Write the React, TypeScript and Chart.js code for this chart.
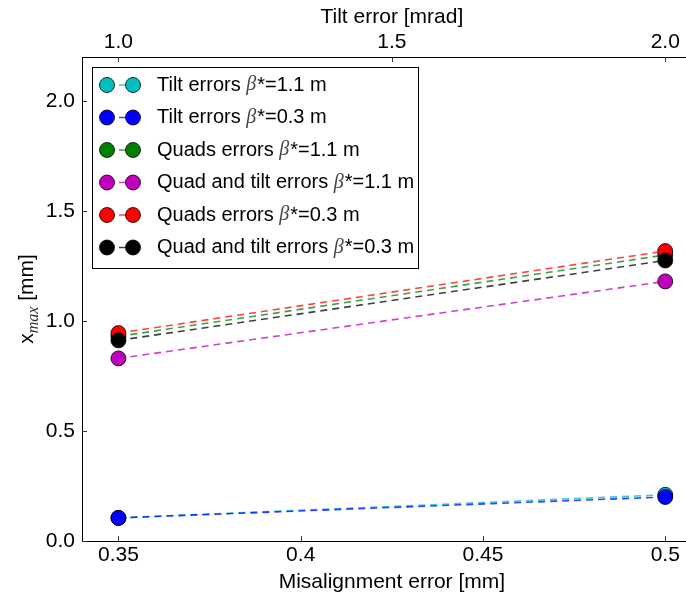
import React, { useEffect, useRef } from 'react';
import { Chart, registerables } from 'chart.js';

Chart.register(...registerables);

// ---------- data ----------
const misalignment = [0.35, 0.5];
const misalignTicks = [0.35, 0.4, 0.45, 0.5];
const misalignTickLabels = ['0.35', '0.4', '0.45', '0.5'];
const tiltTicks = [1.0, 1.5, 2.0];
const tiltTickLabels = ['1.0', '1.5', '2.0'];
const yTicks = [0.0, 0.5, 1.0, 1.5, 2.0];
const yTickLabels = ['0.0', '0.5', '1.0', '1.5', '2.0'];

const tiltErrorsB11 = [0.105, 0.21];
const tiltErrorsB03 = [0.105, 0.2];
const quadsErrorsB11 = [0.93, 1.3];
const quadTiltErrorsB11 = [0.83, 1.18];
const quadsErrorsB03 = [0.945, 1.318];
const quadTiltErrorsB03 = [0.912, 1.275];

const seriesValues = [tiltErrorsB11, tiltErrorsB03, quadsErrorsB11, quadTiltErrorsB11, quadsErrorsB03, quadTiltErrorsB03];
const seriesNames = ['Tilt errors ', 'Tilt errors ', 'Quads errors ', 'Quad and tilt errors ', 'Quads errors ', 'Quad and tilt errors '];
const seriesBeta = ['1.1', '0.3', '1.1', '1.1', '0.3', '0.3'];
const seriesColors = ['rgb(0,191,191)', 'rgb(0,0,255)', 'rgb(0,128,0)', 'rgb(191,0,191)', 'rgb(255,0,0)', 'rgb(0,0,0)'];
const seriesLineColors = ['rgba(0,191,191,0.75)', 'rgba(0,0,255,0.75)', 'rgba(0,128,0,0.75)', 'rgba(191,0,191,0.75)', 'rgba(255,0,0,0.75)', 'rgba(0,0,0,0.75)'];

const xMin = 0.34;
const xMax = 0.51;
// tilt axis is linked to misalignment: 0.35 mm <-> 1.0 mrad, 0.5 mm <-> 2.0 mrad
const tiltOf = (m: number) => 1 + (m - 0.35) / 0.15;

const SANS = '"Liberation Sans", Arial, sans-serif';
const SERIF = '"Liberation Serif", "DejaVu Serif", serif';
const DASH = [7, 5];

const decorPlugin = {
  id: 'decor',
  afterDraw(chart: any) {
    const ctx = chart.ctx as CanvasRenderingContext2D;
    const { left, right, top, bottom } = chart.chartArea;
    const xs = chart.scales.x;
    const xt = chart.scales.x2;
    const ys = chart.scales.y;
    ctx.save();
    // frame
    ctx.strokeStyle = '#000';
    ctx.lineWidth = 1;
    ctx.strokeRect(Math.round(left) + 0.5, Math.round(top) + 0.5, Math.round(right - left), Math.round(bottom - top));
    // inward ticks
    ctx.strokeStyle = '#333';
    ctx.beginPath();
    misalignTicks.forEach((v) => {
      const px = Math.round(xs.getPixelForValue(v)) + 0.5;
      ctx.moveTo(px, bottom);
      ctx.lineTo(px, bottom - 5);
    });
    tiltTicks.forEach((v) => {
      const px = Math.round(xt.getPixelForValue(v)) + 0.5;
      ctx.moveTo(px, top);
      ctx.lineTo(px, top + 5);
    });
    yTicks.forEach((v) => {
      const py = Math.round(ys.getPixelForValue(v)) + 0.5;
      ctx.moveTo(left, py);
      ctx.lineTo(left + 5, py);
    });
    ctx.stroke();

    // axis titles
    ctx.fillStyle = '#000';
    ctx.font = `21px ${SANS}`;
    ctx.textAlign = 'center';
    ctx.textBaseline = 'middle';
    const cx = (left + right) / 2;
    ctx.fillText('Misalignment error [mm]', cx, 582);
    ctx.fillText('Tilt error [mrad]', cx, 17);

    // y title: x_max [mm]
    ctx.save();
    ctx.translate(33, (top + bottom) / 2);
    ctx.rotate(-Math.PI / 2);
    ctx.textAlign = 'left';
    ctx.textBaseline = 'alphabetic';
    const fMain = `21px ${SANS}`;
    const fSub = `italic 16px ${SERIF}`;
    ctx.font = fMain;
    const w1 = ctx.measureText('x').width;
    const w3 = ctx.measureText(' [mm]').width;
    ctx.font = fSub;
    const w2 = ctx.measureText('max').width;
    let sx = -(w1 + w2 + w3) / 2;
    ctx.font = fMain;
    ctx.fillStyle = '#000';
    ctx.fillText('x', sx, 0);
    sx += w1;
    ctx.font = fSub;
    ctx.fillStyle = '#333';
    ctx.fillText('max', sx, 5);
    sx += w2;
    ctx.font = fMain;
    ctx.fillStyle = '#000';
    ctx.fillText(' [mm]', sx, 0);
    ctx.restore();

    // legend
    const lx = 92.5, ly = 67.5, lw = 326, lh = 201;
    ctx.fillStyle = '#fff';
    ctx.fillRect(lx, ly, lw, lh);
    ctx.strokeStyle = '#000';
    ctx.lineWidth = 1;
    ctx.strokeRect(lx, ly, lw, lh);
    seriesNames.forEach((name, i) => {
      const ry = 85 + i * 32.5;
      const m1 = 107, m2 = 133;
      ctx.save();
      ctx.strokeStyle = seriesLineColors[i];
      ctx.lineWidth = 1.5;
      ctx.setLineDash(DASH);
      ctx.beginPath();
      ctx.moveTo(m1, ry);
      ctx.lineTo(m2, ry);
      ctx.stroke();
      ctx.restore();
      [m1, m2].forEach((mx) => {
        ctx.beginPath();
        ctx.arc(mx, ry, 7.5, 0, Math.PI * 2);
        ctx.fillStyle = seriesColors[i];
        ctx.fill();
        ctx.lineWidth = 0.8;
        ctx.strokeStyle = '#000';
        ctx.stroke();
      });
      let tx = 157;
      ctx.textAlign = 'left';
      ctx.textBaseline = 'middle';
      ctx.font = `20px ${SANS}`;
      ctx.fillStyle = '#000';
      ctx.fillText(name, tx, ry);
      tx += ctx.measureText(name).width;
      ctx.font = `italic 20px ${SERIF}`;
      ctx.fillStyle = '#444';
      ctx.fillText('\u03B2', tx, ry);
      tx += ctx.measureText('\u03B2').width + 1;
      ctx.font = `20px ${SANS}`;
      ctx.fillStyle = '#000';
      ctx.fillText(`*=${seriesBeta[i]} m`, tx, ry);
    });
    ctx.restore();
  },
};

export default function App() {
  const ref = useRef<HTMLCanvasElement | null>(null);
  useEffect(() => {
    if (!ref.current) return;
    const datasets = seriesValues.map((vals, i) => ({
      label: seriesNames[i] + 'β*=' + seriesBeta[i] + ' m',
      data: misalignment.map((m, j) => ({ x: m, y: vals[j] })),
      xAxisID: 'x',
      yAxisID: 'y',
      borderColor: seriesLineColors[i],
      borderWidth: 1.6,
      borderDash: DASH,
      pointRadius: 7.5,
      pointHoverRadius: 7.5,
      pointBackgroundColor: seriesColors[i],
      pointBorderColor: '#000',
      pointBorderWidth: 0.8,
      showLine: true,
      fill: false,
      tension: 0,
      order: seriesValues.length - 1 - i,
      clip: false as any,
    }));
    const tickFont = { family: SANS, size: 21 };
    const chart = new Chart(ref.current, {
      type: 'line',
      data: { datasets },
      options: {
        animation: false,
        responsive: false,
        events: [],
        layout: { padding: { left: 0, right: 6, top: 0, bottom: 0 } },
        plugins: { legend: { display: false }, tooltip: { enabled: false } },
        scales: {
          x: {
            type: 'linear',
            position: 'bottom',
            min: xMin,
            max: xMax,
            grid: { display: false },
            border: { display: false },
            afterBuildTicks: (s: any) => { s.ticks = misalignTicks.map((v) => ({ value: v })); },
            afterFit: (s: any) => { s.height = 53; },
            ticks: {
              font: tickFont,
              color: '#000',
              padding: -6,
              maxRotation: 0,
              autoSkip: false,
              callback: (_v: any, idx: number) => misalignTickLabels[idx],
            },
          },
          x2: {
            type: 'linear',
            position: 'top',
            min: tiltOf(xMin),
            max: tiltOf(xMax),
            grid: { display: false },
            border: { display: false },
            afterBuildTicks: (s: any) => { s.ticks = tiltTicks.map((v) => ({ value: v })); },
            afterFit: (s: any) => { s.height = 57; },
            ticks: {
              font: tickFont,
              color: '#000',
              padding: -6,
              maxRotation: 0,
              autoSkip: false,
              callback: (_v: any, idx: number) => tiltTickLabels[idx],
            },
          },
          y: {
            type: 'linear',
            position: 'left',
            min: 0,
            max: 2.2,
            grid: { display: false },
            border: { display: false },
            afterBuildTicks: (s: any) => { s.ticks = yTicks.map((v) => ({ value: v })); },
            afterFit: (s: any) => { s.width = 82; },
            ticks: {
              font: tickFont,
              color: '#000',
              padding: -1,
              autoSkip: false,
              callback: (_v: any, idx: number) => yTickLabels[idx],
            },
          },
        },
      } as any,
      plugins: [decorPlugin],
    });
    return () => chart.destroy();
  }, []);
  return (
    <div style={{ position: 'absolute', left: 0, top: 0, width: 686, height: 594, overflow: 'hidden', background: '#fff' }}>
      <canvas ref={ref} width={710} height={594} style={{ display: 'block', width: 710, height: 594 }} />
    </div>
  );
}
